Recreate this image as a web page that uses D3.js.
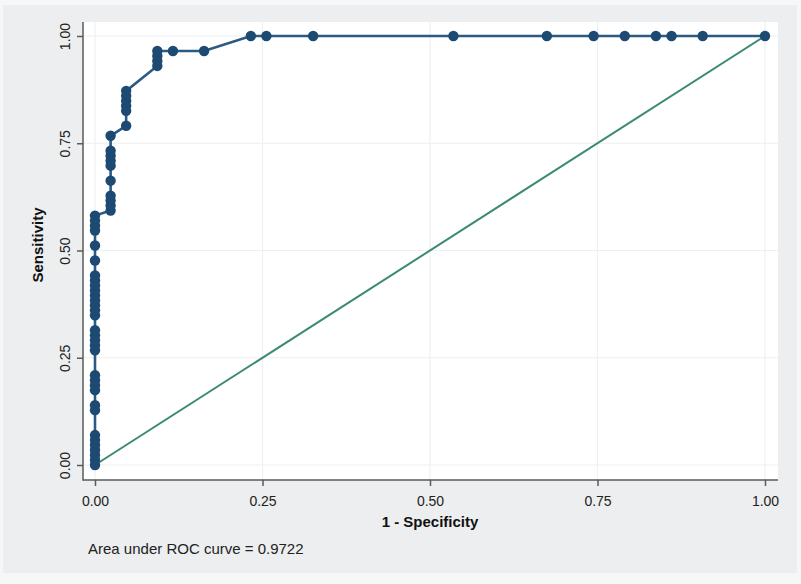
<!DOCTYPE html>
<html><head><meta charset="utf-8">
<script src="https://cdn.jsdelivr.net/npm/d3@7/dist/d3.min.js"></script>
<style>body{margin:0;background:#f6f7f7;}svg{display:block;font-family:"Liberation Sans",Arial,sans-serif;}</style>
</head><body>
<script>
// ROC points: 1 - specificity and sensitivity
const fpr = [0,0,0,0,0,0,0,0,0,0,0,0,0,0,0,0,0,0,0,0,0,0,0,0,0,0,0,0,0,0,0,0,0,
  0.0233,0.0233,0.0233,0.0233,0.0233,0.0233,0.0233,0.0233,0.0233,0.0233,
  0.0465,0.0465,0.0465,0.0465,0.0465,0.0465,
  0.0930,0.0930,0.0930,0.0930,
  0.1163,0.1628,
  0.2326,0.2558,0.3256,0.5349,0.6744,0.7442,0.7907,0.8372,0.8605,0.9070,1.0];
const sens = [0,0.0116,0.0233,0.0349,0.0465,0.0581,0.0698,0.1279,0.1395,0.1744,0.1860,0.1977,0.2093,
  0.2674,0.2791,0.2907,0.3023,0.3140,0.3488,0.3605,0.3721,0.3837,0.3953,0.4070,0.4186,0.4302,0.4419,
  0.4767,0.5116,0.5465,0.5581,0.5698,0.5814,
  0.5930,0.6047,0.6163,0.6279,0.6628,0.6977,0.7093,0.7209,0.7326,0.7674,
  0.7907,0.8256,0.8372,0.8488,0.8605,0.8721,
  0.9302,0.9419,0.9535,0.9651,
  0.9651,0.9651,
  1,1,1,1,1,1,1,1,1,1,1];
const refLine = [[0,0],[1,1]];
const xTicks = [0,0.25,0.5,0.75,1];
const yTicks = [0,0.25,0.5,0.75,1];
const xTitle = "1 - Specificity";
const yTitle = "Sensitivity";
const note = "Area under ROC curve = 0.9722";

const W = 801, H = 584;
const plot = {l:83, t:22, r:778, b:480};
const svg = d3.select("body").append("svg").attr("width",W).attr("height",H);
svg.append("rect").attr("x",3).attr("y",5).attr("width",794).attr("height",568).attr("fill","#eceeef");
svg.append("rect").attr("x",plot.l).attr("y",plot.t).attr("width",plot.r-plot.l).attr("height",plot.b-plot.t).attr("fill","#ffffff");

const x = d3.scaleLinear().domain([0,1]).range([95,765]);
const y = d3.scaleLinear().domain([0,1]).range([465,36]);

// gridlines
svg.append("g").selectAll("line.gx").data(xTicks).join("line")
  .attr("x1",d=>x(d)).attr("x2",d=>x(d)).attr("y1",plot.t).attr("y2",plot.b)
  .attr("stroke","#eef0f1").attr("stroke-width",1.2);
svg.append("g").selectAll("line.gy").data(yTicks).join("line")
  .attr("y1",d=>y(d)).attr("y2",d=>y(d)).attr("x1",plot.l).attr("x2",plot.r)
  .attr("stroke","#eef0f1").attr("stroke-width",1.2);

// axes
const xAxis = d3.axisBottom(x).tickValues(xTicks).tickFormat(d3.format(".2f")).tickSize(6).tickPadding(10);
const gx = svg.append("g").attr("transform",`translate(0,${plot.b})`).call(xAxis);
gx.select(".domain").remove();
gx.selectAll(".tick line").attr("stroke","#5a5a5a").attr("stroke-width",1.5);
gx.selectAll(".tick text").attr("fill","#222").style("font-size","14px");

const yAxis = d3.axisLeft(y).tickValues(yTicks).tickFormat(d3.format(".2f")).tickSize(6).tickPadding(0);
const gy = svg.append("g").attr("transform",`translate(${plot.l},0)`).call(yAxis);
gy.select(".domain").remove();
gy.selectAll(".tick line").attr("stroke","#5a5a5a").attr("stroke-width",1.5);
gy.selectAll(".tick text").attr("fill","#222").style("font-size","14px")
  .attr("x",null).attr("dy",null)
  .attr("text-anchor","middle").attr("transform","translate(-18,0) rotate(-90)")
  .attr("dominant-baseline","central");

svg.append("line").attr("x1",plot.l).attr("x2",plot.l).attr("y1",plot.t).attr("y2",plot.b+0.75)
  .attr("stroke","#5a5a5a").attr("stroke-width",1.5);
svg.append("line").attr("x1",plot.l).attr("x2",plot.r).attr("y1",plot.b).attr("y2",plot.b)
  .attr("stroke","#5a5a5a").attr("stroke-width",1.5);

// reference line
svg.append("path").datum(refLine)
  .attr("d",d3.line().x(d=>x(d[0])).y(d=>y(d[1])))
  .attr("fill","none").attr("stroke","#3b8a76").attr("stroke-width",2);

// ROC curve
const pts = fpr.map((f,i)=>[f,sens[i]]);
svg.append("path").datum(pts)
  .attr("d",d3.line().x(d=>x(d[0])).y(d=>y(d[1])))
  .attr("fill","none").attr("stroke","#2b5a84").attr("stroke-width",2.6);
svg.append("g").selectAll("circle").data(pts).join("circle")
  .attr("cx",d=>x(d[0])).attr("cy",d=>y(d[1])).attr("r",5.2)
  .attr("fill","#1d4a72");

// titles
svg.append("text").attr("x",(x(0)+x(1))/2).attr("y",527).attr("text-anchor","middle")
  .style("font-size","15px").style("font-weight","bold").attr("fill","#111").text(xTitle);
svg.append("text").attr("transform","translate(37,245) rotate(-90)").attr("text-anchor","middle")
  .attr("dominant-baseline","central")
  .style("font-size","15px").style("font-weight","bold").attr("fill","#111").text(yTitle);
svg.append("text").attr("x",88).attr("y",554)
  .style("font-size","15px").attr("fill","#222").text(note);
</script>
</body></html>
